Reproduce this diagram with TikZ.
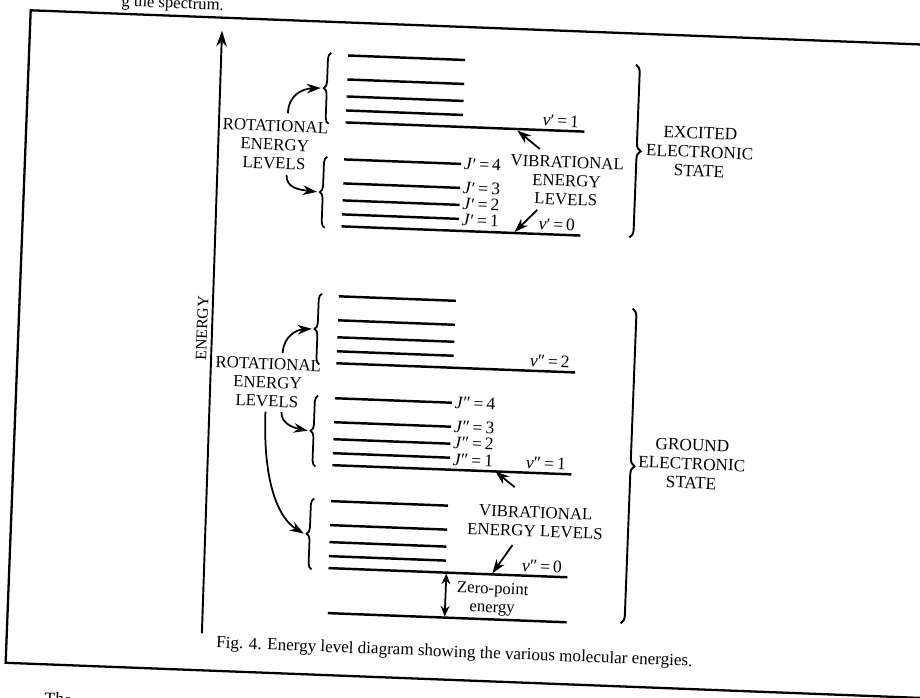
\documentclass[tikz,border=0pt]{standalone}
\usepackage{fontspec}
\setmainfont{Liberation Serif}
\usetikzlibrary{arrows.meta,positioning,decorations.pathreplacing}

\begin{document}
\begin{tikzpicture}[
    x=0.2mm, y=-0.2mm,
    level/.style={line width=1.4pt},
    frame/.style={line width=1.3pt},
    txt/.style={font=\fontsize{9.6}{10.6}\selectfont, align=center, inner sep=0pt},
    jlbl/.style={font=\fontsize{10}{11}\selectfont, anchor=west, inner sep=1.5pt},
    vlbl/.style={font=\fontsize{10}{11}\selectfont, anchor=south east, inner sep=2pt},
    arr/.style={line width=1pt, -{Stealth[length=8pt,width=5.5pt]}},
    lbrace/.style={line width=1pt, decorate, decoration={brace, amplitude=3.5pt}},
    rbrace/.style={line width=1.1pt, decorate, decoration={brace, amplitude=4.5pt}}
]
\useasboundingbox (0,0) rectangle (920,698);

\begin{scope}[rotate around={-2.2:(460,349)}, transform shape]

% page around the figure
\node[anchor=base west, font=\fontsize{9.5}{12}\selectfont, inner sep=0pt] (prev) at (108,19.5) {g the spectrum.};
\node[anchor=base west, font=\fontsize{10}{12}\selectfont, inner sep=0pt] (nxt) at (58,720) {The};
\draw[frame] (975,27) -- (18,27) -- (18,680) -- (975,680);

% energy axis
\coordinate (ax0) at (213,643);
\coordinate (ax1) at (210,40);
\draw[line width=1.1pt, -{Stealth[length=9pt,width=6pt]}] (ax0) -- (ax1);
\node[rotate=90, font=\fontsize{9}{10}\selectfont, inner sep=0pt] (elbl) at (201.5,338) {ENERGY};

% level stacks: v'=1, v'=0, v''=2, v''=1, v''=0
\foreach \b/\n in {127/e1, 231/e0, 368/g2, 470/g1, 573/g0} {
  \draw[level] (337,\b) -- (576,\b);
  \foreach \d in {12,26,43,67}
    \draw[level] (337,\b-\d) -- (454,\b-\d);
  \draw[lbrace] (320,\b+2) -- (320,\b-69);
  \coordinate (\n) at (311,\b-33.5);
}
\draw[level] (338,618) -- (577,618);

% J labels
\node[jlbl] (je4) at (454,164) {\textit{J}′\,=\,4};
\node[jlbl] (je3) at (454,188) {\textit{J}′\,=\,3};
\node[jlbl] (je2) at (454,204) {\textit{J}′\,=\,2};
\node[jlbl] (je1) at (454,220) {\textit{J}′\,=\,1};
\node[jlbl] (jg4) at (454,403) {\textit{J}″\,=\,4};
\node[jlbl] (jg3) at (454,427) {\textit{J}″\,=\,3};
\node[jlbl] (jg2) at (454,443) {\textit{J}″\,=\,2};
\node[jlbl] (jg1) at (454,460) {\textit{J}″\,=\,1};

% v labels
\node[vlbl] (ve1) at (574,127) {\textit{v}′\,=\,1};
\node[vlbl] (ve0) at (574,231) {\textit{v}′\,=\,0};
\node[vlbl] (vg2) at (574,368) {\textit{v}″\,=\,2};
\node[vlbl] (vg1) at (574,470) {\textit{v}″\,=\,1};
\node[vlbl] (vg0) at (574,573) {\textit{v}″\,=\,0};

% rotational labels and arrows
\node[txt] (rotu) at (267,152) {ROTATIONAL\\ENERGY\\LEVELS};
\node[txt] (rotl) at (269,390) {ROTATIONAL\\ENERGY\\LEVELS};
\coordinate (ru1) at (279,120);
\coordinate (ru2) at (280,182);
\coordinate (rl1) at (283,360);
\coordinate (rl2) at (284,419);
\coordinate (rl3) at (268,419);
\draw[arr] (ru1) .. controls (279,102) and (292,95) .. (e1);
\draw[arr] (ru2) .. controls (280,195) and (294,196) .. (e0);
\draw[arr] (rl1) .. controls (283,343) and (296,336) .. (g2);
\draw[arr] (rl2) .. controls (284,430) and (296,434) .. (g1);
\draw[arr] (rl3) .. controls (268,490) and (285,525) .. (g0);

% vibrational labels and arrows
\node[txt] (vibe) at (560,177) {VIBRATIONAL\\ENERGY\\LEVELS};
\coordinate (vu1) at (532,146);
\coordinate (vu1t) at (509,128.5);
\coordinate (vu2) at (532,207);
\coordinate (vu2t) at (510,230);
\draw[arr] (vu1) -- (vu1t);
\draw[arr] (vu2) -- (vu2t);
\node[txt] (vibg) at (542,519) {VIBRATIONAL\\ENERGY LEVELS};
\coordinate (vg1s) at (520,485);
\coordinate (vg1t) at (500,470);
\coordinate (vg0s) at (520,543);
\coordinate (vg0t) at (501,572);
\draw[arr] (vg1s) -- (vg1t);
\draw[arr] (vg0s) -- (vg0t);

% zero-point energy
\coordinate (zp0) at (455,574);
\coordinate (zp1) at (455,617);
\draw[line width=1pt, {Stealth[length=6pt,width=5pt]}-{Stealth[length=6pt,width=5pt]}] (zp0) -- (zp1);
\node[txt, font=\fontsize{9.5}{10.5}\selectfont] (zpt) at (502,598) {Zero-point\\energy};

% electronic states
\draw[rbrace] (625,58) -- (625,231);
\node[txt, font=\fontsize{9.8}{10.8}\selectfont] (exc) at (692,143) {EXCITED\\ELECTRONIC\\STATE};
\draw[rbrace] (631,302) -- (631,617);
\node[txt, font=\fontsize{9.8}{10.8}\selectfont] (gnd) at (696,455) {GROUND\\ELECTRONIC\\STATE};

% caption
\node[font=\fontsize{9.7}{11}\selectfont, inner sep=0pt] (cap) at (466,653) {Fig. 4. Energy level diagram showing the various molecular energies.};

\end{scope}
\end{tikzpicture}
\end{document}
